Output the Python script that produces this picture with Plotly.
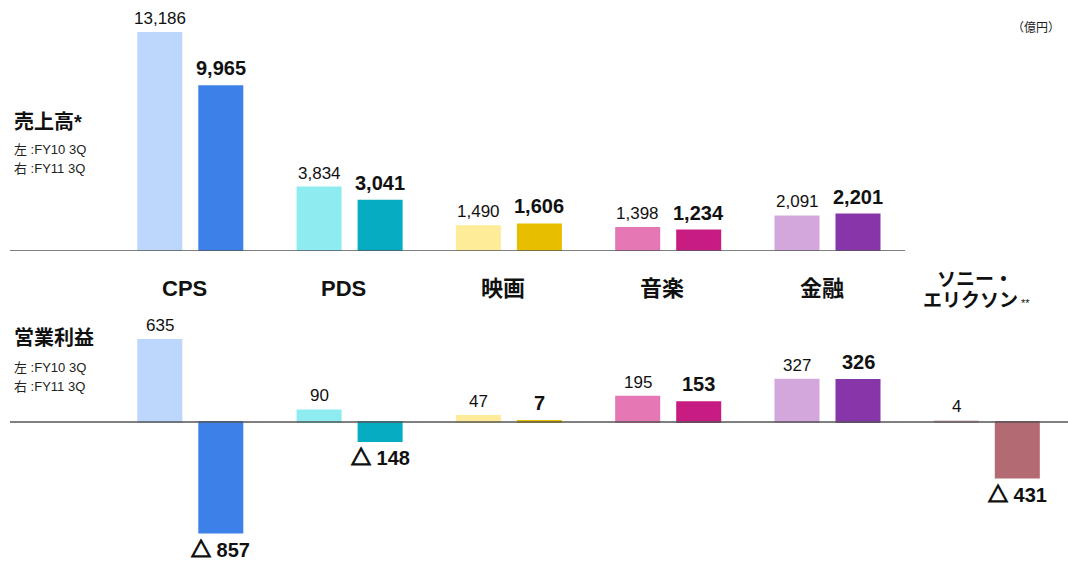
import plotly.graph_objects as go

# ---------------- data ----------------
categories = ["CPS", "PDS", "映画", "音楽", "金融", "ソニー・エリクソン"]
sales_fy10 = [13186, 3834, 1490, 1398, 2091]
sales_fy11 = [9965, 3041, 1606, 1234, 2201]
op_fy10 = [635, 90, 47, 195, 327, 4]
op_fy11 = [-857, -148, 7, 153, 326, -431]

light_colors = ["#BDD6FB", "#8EECF1", "#FFEC99", "#E577B5", "#D3A7DB", "#E0B4B9"]
dark_colors = ["#3D80E8", "#06ADC2", "#E8BE00", "#C71C82", "#8636A8", "#B46A72"]

FONT = "Liberation Sans, Arial, Noto Sans CJK JP, sans-serif"
W, H = 1068, 561


def fmt(v):
    s = f"{abs(v):,}"
    if v < 0:
        return "<span style='stroke:#111111;stroke-width:1.3px'>△</span> " + s
    return s


def py(pix):
    return 1 - pix / H


fig = go.Figure()

n_top = len(sales_fy10)


def bar(xs, ys, colors, xa, ya):
    return go.Bar(x=xs, y=ys, marker=dict(color=colors, line=dict(color=colors, width=2)),
                  xaxis=xa, yaxis=ya, showlegend=False, hoverinfo="skip")


fig.add_trace(bar(categories[:n_top], sales_fy10, light_colors[:n_top], "x", "y"))
fig.add_trace(bar(categories[:n_top], sales_fy11, dark_colors[:n_top], "x", "y"))
fig.add_trace(bar(categories, op_fy10, light_colors, "x2", "y2"))
fig.add_trace(bar(categories, op_fy11, dark_colors, "x2", "y2"))

annotations = []
OFF = 30.5


def value_labels(xs, vals, xref, yref, shift, bold):
    for c, v in zip(xs, vals):
        size = 20 if bold else 17
        txt = f"<b>{fmt(v)}</b>" if bold else fmt(v)
        if v >= 0:
            ys = 5 if bold else 3
        else:
            ys = -4
        annotations.append(dict(
            x=c, y=v, xref=xref, yref=yref, text=txt, showarrow=False,
            xshift=shift, yshift=ys,
            yanchor="bottom" if v >= 0 else "top",
            font=dict(family=FONT, size=size, color="#111111")))


value_labels(categories[:n_top], sales_fy10, "x", "y", -OFF, False)
value_labels(categories[:n_top], sales_fy11, "x", "y", OFF, True)
value_labels(categories, op_fy10, "x2", "y2", -OFF, False)
value_labels(categories, op_fy11, "x2", "y2", OFF, True)

# category labels between the two panels
for c in categories:
    if "・" in c:
        first, second = c.split("・")
        annotations.append(dict(x=c, y=py(280), xref="x", yref="paper", text="<b>" + first + "・</b>",
                                showarrow=False, xshift=-12, yanchor="middle",
                                font=dict(family=FONT, size=19, color="#111111")))
        annotations.append(dict(x=c, y=py(300), xref="x", yref="paper",
                                text="<b>" + second + "</b><span style='font-size:11px'> **</span>",
                                showarrow=False, xshift=-10, yanchor="middle",
                                font=dict(family=FONT, size=19, color="#111111")))
    else:
        annotations.append(dict(x=c, y=py(288), xref="x", yref="paper", text="<b>" + c + "</b>",
                                showarrow=False, xshift=-6, yanchor="middle",
                                font=dict(family=FONT, size=22, color="#111111")))

# panel titles
for title, yt, y1, y2 in [("売上高*", 122, 150, 168), ("営業利益", 338, 367, 386)]:
    annotations.append(dict(x=12 / W, y=py(yt), xref="paper", yref="paper", text="<b>" + title + "</b>",
                            showarrow=False, xanchor="left", yanchor="middle",
                            font=dict(family=FONT, size=20, color="#111111")))
    annotations.append(dict(x=12 / W, y=py(y1), xref="paper", yref="paper", text="左 :FY10 3Q",
                            showarrow=False, xanchor="left", yanchor="middle",
                            font=dict(family=FONT, size=13, color="#222222")))
    annotations.append(dict(x=12 / W, y=py(y2), xref="paper", yref="paper", text="右 :FY11 3Q",
                            showarrow=False, xanchor="left", yanchor="middle",
                            font=dict(family=FONT, size=13, color="#222222")))

annotations.append(dict(x=1062 / W, y=py(28), xref="paper", yref="paper", text="（億円）",
                        showarrow=False, xanchor="right", yanchor="middle",
                        font=dict(family=FONT, size=12, color="#222222")))

shapes = [
    dict(type="line", xref="paper", yref="y", x0=10 / W, x1=905 / W, y0=0, y1=0,
         line=dict(color="#555555", width=1.5)),
    dict(type="line", xref="paper", yref="y2", x0=10 / W, x1=1, y0=0, y1=0,
         line=dict(color="#555555", width=1.5)),
]

xr = [-190.3 / 159.3, (W - 190.3) / 159.3]
axis_common = dict(type="category", categoryorder="array", categoryarray=categories,
                   range=xr, showticklabels=False, showgrid=False, zeroline=False,
                   showline=False, ticks="", fixedrange=True)
top_scale = 218 / 13186
bot_scale = 0.129

fig.update_layout(
    width=W, height=H,
    margin=dict(l=0, r=0, t=0, b=0),
    paper_bgcolor="white", plot_bgcolor="white",
    barmode="group", bargap=0.234, bargroupgap=0.295,
    xaxis=dict(domain=[0, 1], anchor="y", **axis_common),
    xaxis2=dict(domain=[0, 1], anchor="y2", **axis_common),
    yaxis=dict(domain=[py(251), 1], range=[0, 251 / top_scale], visible=False, fixedrange=True),
    yaxis2=dict(domain=[0, py(300)], range=[-(H - 422) / bot_scale, (422 - 300) / bot_scale],
                visible=False, fixedrange=True),
    annotations=annotations,
    shapes=shapes,
    font=dict(family=FONT),
)

fig.write_html("out.html", config={"displayModeBar": False})
